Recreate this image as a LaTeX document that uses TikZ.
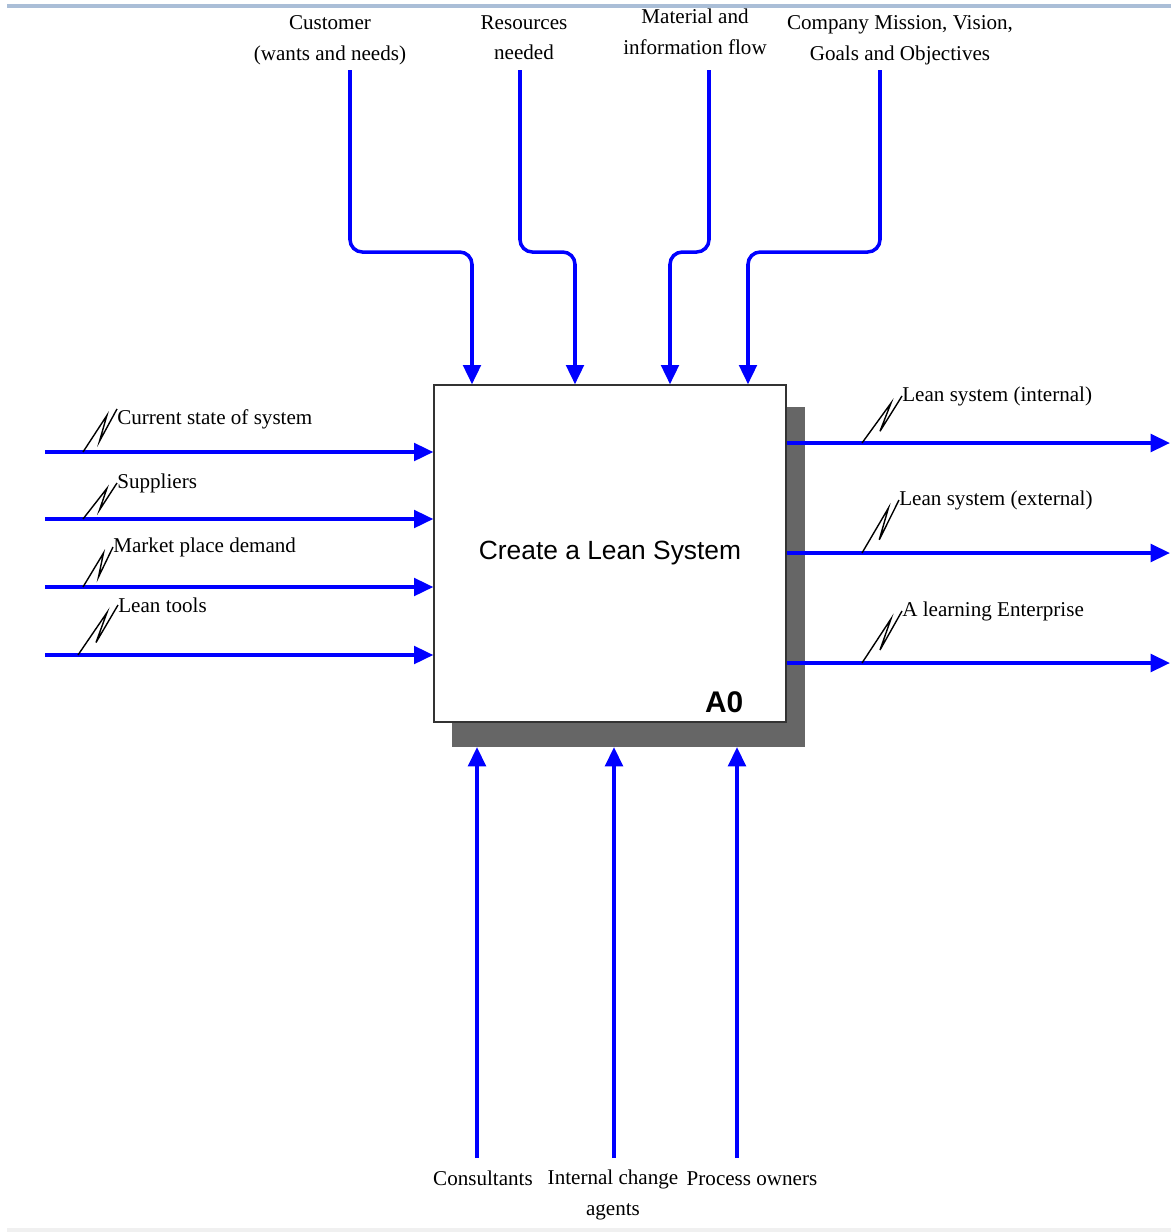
\documentclass[tikz,border=0pt]{standalone}
\usepackage{fontspec}
\setmainfont{Liberation Serif}
\newfontfamily\arialfont{Liberation Sans}
\usetikzlibrary{arrows.meta, positioning, calc}
\definecolor{flowblue}{RGB}{0,0,255}
\definecolor{shadowgray}{RGB}{102,102,102}
\definecolor{rulebar}{RGB}{170,190,215}

\begin{document}
\begin{tikzpicture}[x=0.02cm, y=-0.02cm,
    flow/.style={-{Triangle[length=11pt,width=10pt]}, draw=flowblue, line width=2pt},
    ctrl/.style={flow, rounded corners=7pt},
    lbl/.style={font=\fontsize{12}{17.5}\selectfont, inner sep=0pt, align=center},
    zig/.style={draw, line width=0.8pt, to path={-- ($(\tikztostart)!0.85!(\tikztotarget)+(-5,0)$) -- ($(\tikztostart)!0.25!(\tikztotarget)+(8,0)$) -- (\tikztotarget)}},
    activity/.style={draw=black!80, fill=white, line width=0.8pt, minimum width=7.04cm, minimum height=6.74cm, font=\arialfont\fontsize{15}{18}\selectfont}
]
    \useasboundingbox (0,0) rectangle (1171,1232);
    \draw[rulebar, line width=2pt] (7,6) -- (1171,6);
    \fill[black!6] (7,1228) rectangle (1171,1232);

    % activity box and its shadow
    \fill[shadowgray] (452,407) rectangle (805,747);
    \node[activity] (box) at (610,553.5) {Create a Lean System};
    \node[font=\arialfont\bfseries\fontsize{17}{20}\selectfont, inner sep=0pt, anchor=base east] (a0) at ($(box.south east)+(-43,-10)$) {A0};
    \coordinate (shb) at (610,747);

    % inputs
    \node[lbl, anchor=west] (cur) at (117,419) {Current state of system};
    \node[lbl, anchor=west] (sup) at (117,483) {Suppliers};
    \node[lbl, anchor=west] (mkt) at (113,547) {Market place demand};
    \node[lbl, anchor=west] (tools) at (118,605) {Lean tools};
    \coordinate (in1) at (45,452);
    \coordinate (in2) at (45,519);
    \coordinate (in3) at (45,587);
    \coordinate (in4) at (45,655);
    \draw[flow] (in1) -- (in1 -| box.west);
    \draw[flow] (in2) -- (in2 -| box.west);
    \draw[flow] (in3) -- (in3 -| box.west);
    \draw[flow] (in4) -- (in4 -| box.west);
    \draw[zig] ($(in1)+(38,0)$) to (cur.north west);
    \draw[zig] ($(in2)+(38,0)$) to (sup.west);
    \draw[zig] ($(in3)+(38,0)$) to (mkt.west);
    \draw[zig] ($(in4)+(33,0)$) to (tools.west);

    % outputs
    \node[lbl, anchor=west] (lsi) at (902,396) {Lean system (internal)};
    \node[lbl, anchor=west] (lse) at (899,500) {Lean system (external)};
    \node[lbl, anchor=west] (lrn) at (902,611) {A learning Enterprise};
    \coordinate (out1) at (1170,443);
    \coordinate (out2) at (1170,553);
    \coordinate (out3) at (1170,663);
    \draw[flow] (out1 -| box.east) -- (out1);
    \draw[flow] (out2 -| box.east) -- (out2);
    \draw[flow] (out3 -| box.east) -- (out3);
    \draw[zig] (862,443) to (lsi.west);
    \draw[zig] (862,553) to (lse.west);
    \draw[zig] (862,663) to (lrn.west);

    % controls
    \node[lbl, anchor=north] (cust) at (330,15) {Customer\\(wants and needs)};
    \node[lbl, anchor=north] (res) at (524,15) {Resources\\needed};
    \node[lbl, anchor=north] (mat) at (695,9) {Material and\\information flow};
    \node[lbl, anchor=north] (miss) at (900,15) {Company Mission, Vision,\\Goals and Objectives};
    \coordinate (c1) at (350,70);
    \coordinate (c2) at (520,70);
    \coordinate (c3) at (709,70);
    \coordinate (c4) at (880,70);
    \coordinate (b1) at (472,252);
    \coordinate (b2) at (575,252);
    \coordinate (b3) at (670,252);
    \coordinate (b4) at (748,252);
    \draw[ctrl] (c1) |- (b1) -- (b1 |- box.north);
    \draw[ctrl] (c2) |- (b2) -- (b2 |- box.north);
    \draw[ctrl] (c3) |- (b3) -- (b3 |- box.north);
    \draw[ctrl] (c4) |- (b4) -- (b4 |- box.north);

    % mechanisms
    \node[lbl, anchor=north] (cons) at (483,1171) {Consultants};
    \node[lbl, anchor=north] (agents) at (613,1170) {Internal change\\agents};
    \node[lbl, anchor=north] (owners) at (752,1171) {Process owners};
    \coordinate (m1) at (477,1158);
    \coordinate (m2) at (614,1158);
    \coordinate (m3) at (737,1158);
    \draw[flow] (m1) -- (m1 |- shb);
    \draw[flow] (m2) -- (m2 |- shb);
    \draw[flow] (m3) -- (m3 |- shb);
\end{tikzpicture}
\end{document}
